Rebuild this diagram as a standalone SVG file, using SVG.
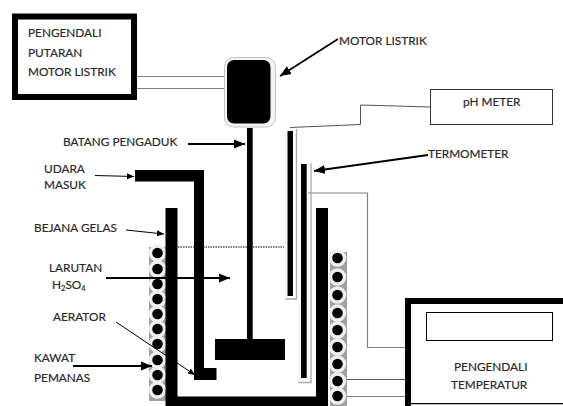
<svg xmlns="http://www.w3.org/2000/svg" width="563" height="406" viewBox="0 0 563 406">
<style>
text{font-family:Lato,"Open Sans","Liberation Sans",sans-serif;font-size:11.8px;fill:#2b2b2b;stroke:#2b2b2b;stroke-width:.2}
.blk{fill:#000}
.wire{fill:none;stroke:#555;stroke-width:1}
.gw{fill:none;stroke:#808080;stroke-width:1.2}
.ar{stroke:#000;fill:none}
.ring{fill:#000;stroke:#f0f0f0;stroke-width:3.400}
.pad{fill:#a0a0a0}
.frame{fill:none;stroke:#a8a8a8;stroke-width:1.300}
</style>
<defs>
<marker id="a" markerUnits="userSpaceOnUse" markerWidth="12" markerHeight="10" refX="11" refY="5" orient="auto"><path d="M0,0.5L11,5L0,9.5z" fill="#000"/></marker>
<marker id="s" markerUnits="userSpaceOnUse" markerWidth="8" markerHeight="8" refX="7" refY="4" orient="auto"><path d="M0,1L7,4L0,7z" fill="#000"/></marker>
<g id="c"><circle r="7" class="ring"/></g>
</defs>
<rect width="563" height="406" fill="#fff"/>
<g id="connectors">
<path class="gw" d="M137,76.500H225M137,88.500H225"/>
<path class="wire" d="M290,127.500L360.500,124.500V105L430,107"/>
<path class="gw" d="M308,193H367.500V347.500H405"/>
<path class="wire" d="M343,379.500H405"/>
<path class="gw" d="M343,396.500H405"/>
<path d="M178,247H284" stroke="#555" stroke-width="1.500" stroke-dasharray="1.500 1" fill="none"/>
</g>
<g id="coil-left">
<rect class="pad" x="149" y="247" width="18" height="154"/>
<use href="#c" x="157.500" y="253"/><use href="#c" x="157.500" y="269"/><use href="#c" x="157.500" y="284"/><use href="#c" x="157.500" y="299"/><use href="#c" x="157.500" y="314"/><use href="#c" x="157.500" y="329"/><use href="#c" x="157.500" y="344"/><use href="#c" x="157.500" y="360"/><use href="#c" x="157.500" y="375"/><use href="#c" x="157.500" y="390"/>
</g>
<g id="coil-right">
<rect class="pad" x="330" y="252" width="17" height="154"/>
<use href="#c" x="337.500" y="258"/><use href="#c" x="337.500" y="277"/><use href="#c" x="337.500" y="295"/><use href="#c" x="337.500" y="313"/><use href="#c" x="337.500" y="330"/><use href="#c" x="337.500" y="347"/><use href="#c" x="337.500" y="364"/><use href="#c" x="337.500" y="381"/><use href="#c" x="337.500" y="396"/>
</g>
<g id="bejana-gelas"><path class="blk" d="M165.500,208H177.500V396.500H316V208H328V406H165.500z"/></g>
<g id="aerator"><path class="blk" d="M135,170H204V368H216.500V380H194V181.500H135z"/></g>
<g id="pengaduk"><rect class="blk" x="247" y="128" width="5.700" height="212"/><rect class="blk" x="215" y="339" width="70" height="21"/></g>
<g id="motor"><rect x="224.500" y="57.500" width="51" height="69.500" rx="9" fill="#f4f4f4" stroke="#c4c4c4" stroke-width="1"/><rect class="blk" x="227" y="60" width="43.500" height="63.500" rx="7"/></g>
<g id="ph-probe"><path class="frame" d="M296.500,129V299H285.500"/><path d="M285.500,131V298" stroke="#eee" stroke-width="1"/><rect class="blk" x="287.500" y="131" width="5.500" height="165"/></g>
<g id="termometer"><path class="frame" d="M311,163V382.500H298.500"/><path d="M299,164V381" stroke="#eee" stroke-width="1"/><rect class="blk" x="301" y="164" width="5.700" height="214"/></g>
<g id="pengendali-putaran"><rect x="15" y="16.500" width="119" height="80.500" fill="#fff" stroke="#000" stroke-width="6"/>
<text x="28" y="37">PENGENDALI</text><text x="28" y="57">PUTARAN</text><text x="28" y="76">MOTOR LISTRIK</text></g>
<g id="ph-meter"><rect x="430.500" y="89.500" width="122" height="35" fill="#fff" stroke="#333" stroke-width="1"/><text x="463" y="106">pH METER</text></g>
<g id="pengendali-temperatur"><path d="M405,298H563V304H411V403H563V404.200H411V406H405z" class="blk"/>
<rect x="426.500" y="312.500" width="126" height="28" fill="#fff" stroke="#000" stroke-width="1"/>
<text x="454" y="371">PENGENDALI</text><text x="451" y="389">TEMPERATUR</text></g>
<g id="arrows">
<path class="ar" stroke-width="1.800" marker-end="url(#a)" d="M338,39L280,76"/>
<path class="ar" stroke-width="1.800" marker-end="url(#a)" d="M188,144H245"/>
<path class="ar" stroke-width="1" marker-end="url(#s)" d="M95,175.500L134,176.500"/>
<path class="ar" stroke-width="1.800" marker-end="url(#a)" d="M428,155L314,171"/>
<path class="ar" stroke-width="1" marker-end="url(#s)" d="M126,230L164,234"/>
<path class="ar" stroke-width="1.800" marker-end="url(#a)" d="M106,278H230"/>
<path class="ar" stroke-width="1" marker-end="url(#s)" d="M116,322L195,375"/>
<path class="ar" stroke-width="1.800" marker-end="url(#a)" d="M73,366H152"/>
</g>
<g id="labels">
<text x="339" y="45">MOTOR LISTRIK</text>
<text x="63" y="146">BATANG PENGADUK</text>
<text x="44" y="173">UDARA</text><text x="44" y="189">MASUK</text>
<text x="428" y="158">TERMOMETER</text>
<text x="34" y="232">BEJANA GELAS</text>
<text x="49" y="272">LARUTAN</text>
<text x="52" y="289">H<tspan font-size="7.500" dy="2">2</tspan><tspan dy="-2">SO</tspan><tspan font-size="7.500" dy="2">4</tspan></text>
<text x="53" y="321">AERATOR</text>
<text x="34" y="362">KAWAT</text><text x="34" y="382">PEMANAS</text>
</g>
</svg>
